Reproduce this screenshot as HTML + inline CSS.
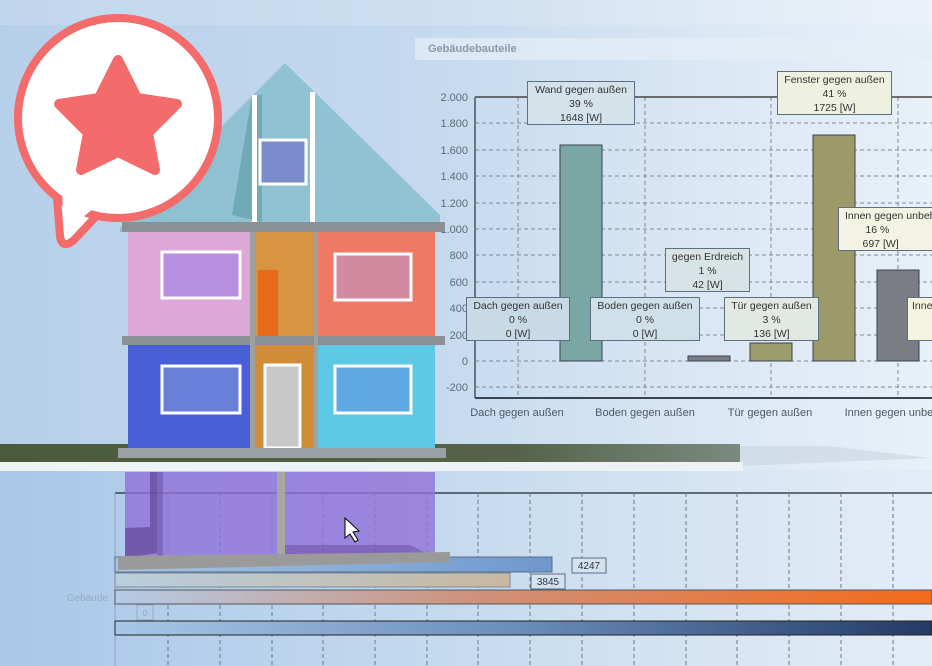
<!DOCTYPE html>
<html><head><meta charset="utf-8"><style>
body{margin:0;width:932px;height:666px;overflow:hidden;position:relative;font-family:"Liberation Sans",sans-serif;background:linear-gradient(90deg,#b7d0ea 0%,#c4d9ee 45%,#dde9f5 80%,#e8f0f8 100%);}
.a{position:absolute}
.lb{position:absolute;border:1px solid #5d6f80;font-size:10.5px;line-height:14px;text-align:center;color:#333;box-sizing:border-box;padding-top:1px}
</style></head><body>
<div class="a" style="left:0;top:0;width:932px;height:25px;background:rgba(255,255,255,0.15)"></div>
<div class="a" style="top:38px;left:415px;width:517px;height:22px;background:rgba(230,238,246,0.7)"></div>
<div class="a" style="left:428px;top:43px;font-size:11px;font-weight:bold;color:#8a98aa">Gebäudebauteile</div>
<svg class="a" style="left:0;top:0" width="932" height="666">
<g stroke="#7f8a96" stroke-dasharray="4,3" stroke-width="1">
<line x1="475" y1="97" x2="932" y2="97"/><line x1="475" y1="123" x2="932" y2="123"/><line x1="475" y1="150" x2="932" y2="150"/><line x1="475" y1="176" x2="932" y2="176"/><line x1="475" y1="203" x2="932" y2="203"/><line x1="475" y1="229" x2="932" y2="229"/><line x1="475" y1="255" x2="932" y2="255"/><line x1="475" y1="282" x2="932" y2="282"/><line x1="475" y1="308" x2="932" y2="308"/><line x1="475" y1="335" x2="932" y2="335"/><line x1="475" y1="361" x2="932" y2="361"/><line x1="475" y1="387" x2="932" y2="387"/>
<line x1="518" y1="97" x2="518" y2="398"/><line x1="645" y1="97" x2="645" y2="398"/><line x1="771" y1="97" x2="771" y2="398"/><line x1="898" y1="97" x2="898" y2="398"/>
</g>
<line x1="475" y1="97" x2="932" y2="97" stroke="#444" stroke-width="1.5"/>
<line x1="475" y1="97" x2="475" y2="398" stroke="#6a7684" stroke-width="2"/>
<line x1="475" y1="398" x2="932" y2="398" stroke="#3a4450" stroke-width="2"/>
<g stroke="#3a4450" stroke-width="1">
<rect x="560" y="145" width="42" height="216" fill="#7aa6a4"/>
<rect x="688" y="356" width="42" height="5" fill="#7d7d86"/>
<rect x="750" y="343" width="42" height="18" fill="#9c9c6c"/>
<rect x="813" y="135" width="42" height="226" fill="#9c9a68"/>
<rect x="877" y="270" width="42" height="91" fill="#7a7d84"/>
</g>
<g font-size="11" fill="#5e6b7a" text-anchor="end">
<text x="468" y="101">2.000</text><text x="468" y="127">1.800</text><text x="468" y="154">1.600</text><text x="468" y="180">1.400</text><text x="468" y="207">1.200</text><text x="468" y="233">1.000</text><text x="468" y="259">800</text><text x="468" y="286">600</text><text x="468" y="312">400</text><text x="468" y="339">200</text><text x="468" y="365">0</text><text x="468" y="391">-200</text>
</g>
<g font-size="11" fill="#4d5866" text-anchor="middle">
<text x="517" y="416">Dach gegen außen</text><text x="645" y="416">Boden gegen außen</text><text x="770" y="416">Tür gegen außen</text><text x="892" y="416">Innen gegen unbeh</text>
</g>
</svg>
<div class="lb" style="left:527px;top:81px;width:108px;height:44px;background:#d4e2ea">Wand gegen außen<br>39 %<br>1648 [W]</div>
<div class="lb" style="left:777px;top:71px;width:115px;height:44px;background:#eef0e0">Fenster gegen außen<br>41 %<br>1725 [W]</div>
<div class="lb" style="left:838px;top:207px;width:100px;height:44px;background:#f2f3e2;text-align:left;padding-left:6px">Innen gegen unbeh<br>&nbsp;&nbsp;&nbsp;&nbsp;&nbsp;&nbsp;&nbsp;16 %<br>&nbsp;&nbsp;&nbsp;&nbsp;&nbsp;&nbsp;697 [W]</div>
<div class="lb" style="left:665px;top:248px;width:85px;height:44px;background:#d8e3e6">gegen Erdreich<br>1 %<br>42 [W]</div>
<div class="lb" style="left:466px;top:297px;width:104px;height:44px;background:#c8dae6">Dach gegen außen<br>0 %<br>0 [W]</div>
<div class="lb" style="left:590px;top:297px;width:110px;height:44px;background:#d0e0e8">Boden gegen außen<br>0 %<br>0 [W]</div>
<div class="lb" style="left:724px;top:297px;width:95px;height:44px;background:#e2e8e2">Tür gegen außen<br>3 %<br>136 [W]</div>
<div class="lb" style="left:907px;top:297px;width:30px;height:44px;background:#f4f4e0;text-align:left;padding-left:4px">Inne</div>

<div class="a" style="left:0;top:470px;width:932px;height:196px;background:linear-gradient(90deg,#a9c7e8,#c6dbef 50%,#e4edf6)"></div>
<svg class="a" style="left:0;top:470px" width="932" height="196">
<line x1="115" y1="23" x2="932" y2="23" stroke="#3a4450" stroke-width="1.5"/>
<line x1="115" y1="23" x2="115" y2="196" stroke="#8aa0b8"/>
<g stroke="#6c7886" stroke-dasharray="4,3">
<line x1="168" y1="23" x2="168" y2="196"/><line x1="220" y1="23" x2="220" y2="196"/><line x1="272" y1="23" x2="272" y2="196"/><line x1="323" y1="23" x2="323" y2="196"/><line x1="375" y1="23" x2="375" y2="196"/><line x1="427" y1="23" x2="427" y2="196"/><line x1="478" y1="23" x2="478" y2="196"/><line x1="530" y1="23" x2="530" y2="196"/><line x1="582" y1="23" x2="582" y2="196"/><line x1="634" y1="23" x2="634" y2="196"/><line x1="686" y1="23" x2="686" y2="196"/><line x1="737" y1="23" x2="737" y2="196"/><line x1="789" y1="23" x2="789" y2="196"/><line x1="841" y1="23" x2="841" y2="196"/><line x1="893" y1="23" x2="893" y2="196"/>
</g>
<defs>
<linearGradient id="b1"><stop offset="0" stop-color="#a8c4e4"/><stop offset="1" stop-color="#6e98cc"/></linearGradient>
<linearGradient id="b2"><stop offset="0" stop-color="#b8cede"/><stop offset="1" stop-color="#c8b8a0"/></linearGradient>
<linearGradient id="b3"><stop offset="0" stop-color="#b4cce6"/><stop offset="0.45" stop-color="#d09078"/><stop offset="1" stop-color="#f56a1a"/></linearGradient>
<linearGradient id="b4"><stop offset="0" stop-color="#a8c6e8"/><stop offset="0.5" stop-color="#6a8cba"/><stop offset="1" stop-color="#243a66"/></linearGradient>
</defs>
<rect x="115" y="87" width="437" height="15" fill="url(#b1)" stroke="#5a6e88"/>
<rect x="115" y="103" width="395" height="14" fill="url(#b2)" stroke="#7a8898"/>
<rect x="115" y="120" width="817" height="14" fill="url(#b3)" stroke="#555"/>
<rect x="115" y="151" width="817" height="14" fill="url(#b4)" stroke="#222"/>
<rect x="572" y="88" width="34" height="15" fill="#d2e2ee" stroke="#5a6e88"/><text x="589" y="99" font-size="10" text-anchor="middle" fill="#334">4247</text>
<rect x="531" y="104" width="34" height="15" fill="#d2e2ee" stroke="#5a6e88"/><text x="548" y="115" font-size="10" text-anchor="middle" fill="#334">3845</text>
<rect x="137" y="135" width="16" height="15" fill="none" stroke="#9ab"/><text x="145" y="146" font-size="9" text-anchor="middle" fill="#9ab">0</text>
<text x="108" y="131" font-size="10" text-anchor="end" fill="#98aac0">Gebäude</text>
</svg>

<svg class="a" style="left:0;top:0" width="932" height="666">
<defs><linearGradient id="gr"><stop offset="0" stop-color="#4a5a3a"/><stop offset="0.7" stop-color="#56634a"/><stop offset="1" stop-color="#7a8a80"/></linearGradient></defs>
<rect x="0" y="444" width="740" height="22" fill="url(#gr)"/>
<polygon points="740,446 830,446 930,458 740,466" fill="#c8d4de" opacity="0.6"/>
<rect x="0" y="462" width="743" height="9" fill="#eef2f5"/>
<polygon points="120,228 285,63 440,215 440,232 120,232" fill="#6fb4c2" opacity="0.6"/>
<polygon points="232,215 252,95 262,95 262,222" fill="#5e9aa4" opacity="0.6"/>
<rect x="252" y="95" width="5" height="127" fill="#fff"/>
<rect x="310" y="92" width="5" height="130" fill="#fff"/>
<rect x="260" y="140" width="46" height="44" fill="#7a8ccc" stroke="#fff" stroke-width="3"/>
<rect x="128" y="232" width="125" height="104" fill="#dca8d8"/>
<rect x="253" y="232" width="62" height="104" fill="#d89440"/>
<rect x="258" y="270" width="20" height="66" fill="#e96a18"/>
<rect x="315" y="232" width="120" height="104" fill="#ee7a66"/>
<rect x="128" y="345" width="122" height="103" fill="#4a5ed8"/>
<rect x="250" y="345" width="65" height="103" fill="#d08c36"/>
<rect x="265" y="365" width="35" height="83" fill="#c8c8c8" stroke="#fff" stroke-width="3"/>
<rect x="315" y="345" width="120" height="103" fill="#5cc8e4"/>
<rect x="162" y="252" width="78" height="46" fill="#b88ee0" stroke="#fff" stroke-width="3"/>
<rect x="335" y="254" width="76" height="46" fill="#d28aa0" stroke="#fff" stroke-width="3"/>
<rect x="162" y="366" width="78" height="47" fill="#6a7fd8" stroke="#fff" stroke-width="3"/>
<rect x="335" y="366" width="76" height="47" fill="#5ea8e4" stroke="#fff" stroke-width="3"/>
<rect x="122" y="222" width="323" height="10" fill="#8a9094"/>
<rect x="122" y="336" width="323" height="9" fill="#8a9094"/>
<rect x="118" y="448" width="328" height="10" fill="#9aa0a4"/>
<rect x="250" y="232" width="5" height="216" fill="#a0a0a0"/>
<rect x="314" y="232" width="4" height="216" fill="#a0a0a0"/>
<rect x="125" y="472" width="310" height="88" fill="#9070d8" opacity="0.8"/>
<rect x="157" y="472" width="6" height="86" fill="#6050a0" opacity="0.5"/>
<polygon points="125,528 150,527 150,472 157,472 157,553 125,558" fill="#5a3e8c" opacity="0.6"/>
<polygon points="285,545 410,545 430,555 285,555" fill="#6a4aa0" opacity="0.5"/>
<rect x="277" y="472" width="8" height="86" fill="#a8a8a0"/>
<polygon points="118,556 450,552 450,562 118,570" fill="#9a9a9a"/>
<polygon points="345,518 345,538 350,534 355,542 358,540 353,532 359,531" fill="#fff" stroke="#000"/>
<!-- badge -->
<path d="M56,185 L60,236 Q62,250 74,240 L102,210 Z" fill="#fff" stroke="#f36b6b" stroke-width="8" stroke-linejoin="round"/>
<circle cx="118" cy="118" r="100" fill="#fff" stroke="#f36b6b" stroke-width="8"/>
<path d="M62,190 L64,232 L98,205 Z" fill="#fff"/>
<path d="M118,60 L137,98 L177,104 L148,133 L155,170 L118,152 L81,170 L88,133 L59,104 L99,98 Z" fill="#f36b6b" stroke="#f36b6b" stroke-width="10" stroke-linejoin="round"/>
</svg>
</body></html>
